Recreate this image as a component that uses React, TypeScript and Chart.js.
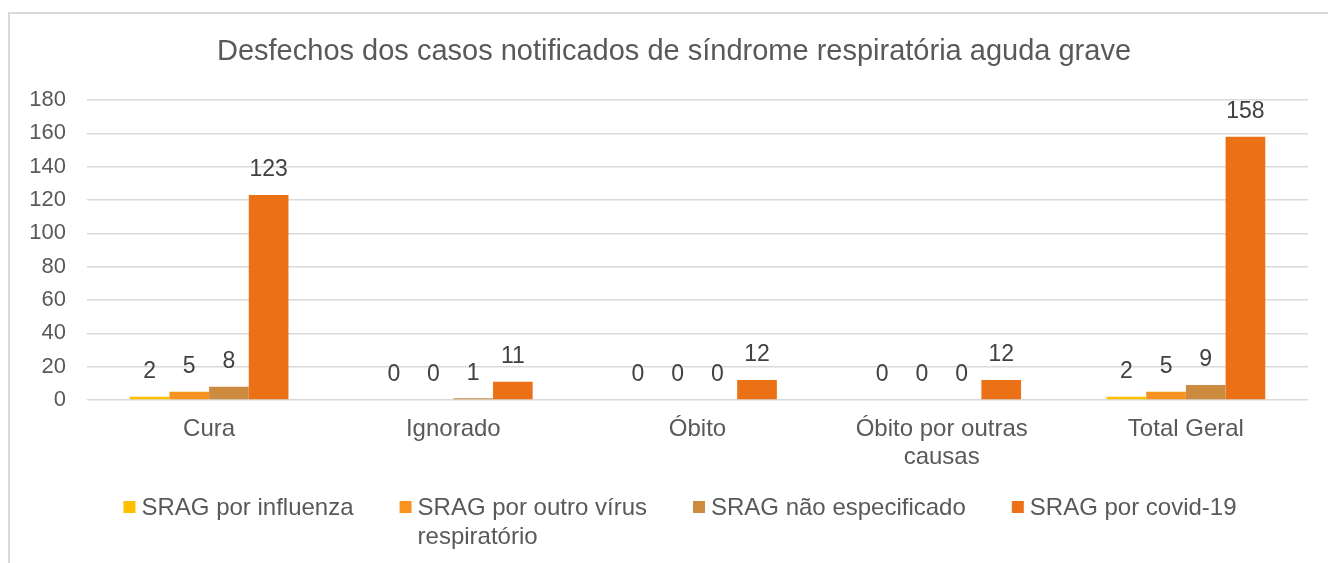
import React, { useEffect, useRef } from "react";
import { Chart, registerables } from "chart.js";

Chart.register(...registerables);

const chartTitle = "Desfechos dos casos notificados de síndrome respiratória aguda grave";
const categoryLabels: (string | string[])[] = ["Cura", "Ignorado", "Óbito", ["Óbito por outras", "causas"], "Total Geral"];
const seriesNames = ["SRAG por influenza", "SRAG por outro vírus respiratório", "SRAG não especificado", "SRAG por covid-19"];
const legendLines = [["SRAG por influenza"], ["SRAG por outro vírus", "respiratório"], ["SRAG não especificado"], ["SRAG por covid-19"]];
const influenza = [2, 0, 0, 0, 2];
const outroVirus = [5, 0, 0, 0, 5];
const naoEspecificado = [8, 1, 0, 0, 9];
const covid = [123, 11, 12, 12, 158];
const seriesColors = ["#FFC000", "#F7931E", "#CD8B40", "#EC7016"];
const yTicks = { min: 0, max: 180, step: 20 };

const FONT = '"Liberation Sans", Arial, Helvetica, sans-serif';

export default function App() {
  const ref = useRef<HTMLCanvasElement>(null);

  useEffect(() => {
    const canvas = ref.current!;

    const dataLabels = {
      id: "dataLabels",
      afterDatasetsDraw(chart: any) {
        const ctx = chart.ctx;
        ctx.save();
        ctx.font = `23px ${FONT}`;
        ctx.fillStyle = "#404040";
        ctx.textAlign = "center";
        ctx.textBaseline = "middle";
        chart.data.datasets.forEach((ds: any, i: number) => {
          const meta = chart.getDatasetMeta(i);
          meta.data.forEach((el: any, j: number) => {
            ctx.fillText(String(ds.data[j]), el.x, el.y - 25);
          });
        });
        ctx.restore();
      },
    };

    const customTitle = {
      id: "customTitle",
      afterDraw(chart: any) {
        const ctx = chart.ctx;
        ctx.save();
        ctx.font = `29px ${FONT}`;
        ctx.fillStyle = "#595959";
        ctx.textAlign = "center";
        ctx.textBaseline = "middle";
        ctx.fillText(chartTitle, chart.width / 2, 38);
        ctx.restore();
      },
    };

    const customLegend = {
      id: "customLegend",
      afterDraw(chart: any) {
        const ctx = chart.ctx;
        ctx.save();
        ctx.font = `24px ${FONT}`;
        ctx.textBaseline = "middle";
        ctx.textAlign = "left";
        const sq = 12;
        const gapSqText = 6;
        const gapItems = 46;
        const widths = legendLines.map((lines) => {
          const w = Math.max(...lines.map((l) => ctx.measureText(l).width));
          return sq + gapSqText + w;
        });
        const total = widths.reduce((a, b) => a + b, 0) + gapItems * (widths.length - 1);
        let x = chart.width / 2 + 6 - total / 2;
        const y0 = chart.chartArea.bottom + 108;
        const lineH = 29;
        legendLines.forEach((lines, i) => {
          ctx.fillStyle = seriesColors[i];
          ctx.fillRect(x, y0 - sq / 2 - 1, sq, sq);
          ctx.fillStyle = "#595959";
          lines.forEach((l, k) => {
            ctx.fillText(l, x + sq + gapSqText, y0 + k * lineH);
          });
          x += widths[i] + gapItems;
        });
        ctx.restore();
      },
    };

    const seriesData = [influenza, outroVirus, naoEspecificado, covid];

    const chart = new Chart(canvas, {
      type: "bar",
      data: {
        labels: categoryLabels,
        datasets: seriesNames.map((name, i) => ({
          label: name,
          data: seriesData[i],
          backgroundColor: seriesColors[i],
          borderWidth: 0,
          categoryPercentage: 0.65,
          barPercentage: 1.0,
        })),
      },
      options: {
        responsive: false,
        animation: false,
        layout: { padding: { left: 0, right: 30, top: 86, bottom: 83 } },
        plugins: {
          legend: { display: false },
          tooltip: { enabled: false },
          title: { display: false },
        },
        scales: {
          x: {
            grid: { display: false, drawTicks: false },
            border: { display: false },
            ticks: {
              color: "#595959",
              font: { family: FONT, size: 24, lineHeight: 1.15 },
              padding: 16,
              maxRotation: 0,
              autoSkip: false,
            },
            afterFit: (s: any) => {
              s.height = 80;
            },
          },
          y: {
            min: yTicks.min,
            max: yTicks.max,
            grid: { color: "#d9d9d9", lineWidth: 1.5, drawTicks: false },
            border: { display: false },
            ticks: {
              stepSize: yTicks.step,
              color: "#595959",
              font: { family: FONT, size: 22 },
              padding: 21,
            },
            afterFit: (s: any) => {
              s.width = 77;
            },
          },
        },
      },
      plugins: [dataLabels, customTitle, customLegend],
    });

    return () => chart.destroy();
  }, []);

  return (
    <div style={{ position: "fixed", left: 8, top: 8, width: 1320, height: 555, overflow: "hidden" }}>
      <div
        style={{
          marginTop: 4,
          borderTop: "2px solid #d9d9d9",
          borderLeft: "2px solid #d9d9d9",
          width: 1340,
          height: 560,
          background: "#fff",
        }}
      >
        <canvas ref={ref} width={1328} height={549} style={{ display: "block", width: 1328, height: 549 }} />
      </div>
    </div>
  );
}
